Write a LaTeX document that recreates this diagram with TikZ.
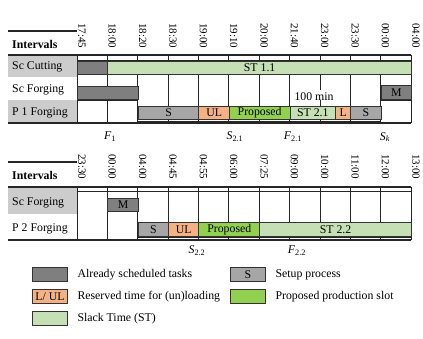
\documentclass[tikz,border=0pt]{standalone}
\usepackage{fontspec}
\setmainfont{Liberation Serif}
\usepackage{xcolor}
\usepackage{tikz}
\usetikzlibrary{positioning}

\definecolor{schedgray}{HTML}{7F7F7F}
\definecolor{setupgray}{HTML}{A6A6A6}
\definecolor{loadorange}{HTML}{F4B183}
\definecolor{propgreen}{HTML}{92D050}
\definecolor{slackgreen}{HTML}{C5E0B4}
\definecolor{labelgray}{HTML}{CCCCCC}

\tikzset{
  gridline/.style={line width=0.7pt, black!85},
  headline/.style={line width=1.3pt, black!85},
  bar/.style={draw=black!80, line width=1pt, minimum height=13.5pt, inner sep=0pt, anchor=west},
  timelbl/.style={rotate=-90, anchor=south west, inner sep=1pt, font=\fontsize{11}{12}\selectfont},
  rowlbl/.style={anchor=west, inner sep=0pt},
  keybox/.style={draw=black!80, line width=1pt, minimum width=35pt, minimum height=14pt, inner sep=0pt, anchor=north west},
}

\begin{document}
\begin{tikzpicture}[x=1pt, y=-1pt, every node/.style={font=\fontsize{11.8}{13}\selectfont}]
  \useasboundingbox (0,0) rectangle (423,339);
  % Plan 1: header and row backgrounds
  \fill[labelgray] (8,55) rectangle (77,77);
  \fill[labelgray] (8,100) rectangle (77,123);
  \draw[headline] (8,31) -- (77,31);
  \draw[headline] (8,55) -- (411,55);
  \draw[headline] (8,123) -- (411,123);
  \draw[gridline] (77,60) -- (411,60);
  \draw[gridline] (137,121) -- (380,121);
  \draw[gridline] (77,100) -- (137,100);
  \draw[gridline] (380,100) -- (411,100);
  \foreach \i/\tm in {0/17:45,1/18:00,2/18:20,3/18:30,4/19:00,5/19:10,6/20:00,7/21:40,8/23:00,9/23:30,10/00:00,11/04:00} {
    \node[timelbl] (tA\i) at ({77+30.36*\i},22) {\tm};
  }
  \foreach \i in {0,...,7,9,10,11} {
    \draw[gridline] ({77+30.36*\i},55) -- ({77+30.36*\i},123);
  }
  \draw[gridline] (319.9,55) -- (319.9,90);
  \draw[gridline] (319.9,100) -- (319.9,123);
  \node[rowlbl, font=\fontsize{11.8}{13}\selectfont\bfseries] (hdA) at (12,44) {Intervals};
  \node[rowlbl] (cutA) at (12,67) {Sc Cutting};
  \node[rowlbl] (forgA) at (12,90) {Sc Forging};
  \node[rowlbl] (pA) at (12,113) {P 1 Forging};
  % bars of plan 1
  \foreach \n/\a/\b/\y/\c/\txt in {
      busyA/0/1/68/schedgray/{}, stA/1/11/68/slackgreen/ST 1.1,
      busyB/0/2/93/schedgray/{}, mA/10/11/92.5/schedgray/M,
      sA/2/4/113/setupgray/S, ulA/4/5/113/loadorange/UL, propA/5/7/113/propgreen/Proposed,
      stB/7/8.5/113/slackgreen/ST 2.1, lA/8.5/9/113/loadorange/L, sB/9/10/113/setupgray/S} {
    \node[bar, fill=\c, minimum width={30.36*(\b-\a)}] (\n) at ({77+30.36*\a},\y) {\txt};
  }
  \node (gapA) at (314,97) {100 min};
  \node (f1) at (110,137) {{\itshape F}\textsubscript{1}};
  \node (s21) at (235,137) {{\itshape S}\textsubscript{2.1}};
  \node (f21) at (293,137) {{\itshape F}\textsubscript{2.1}};
  \node (sk) at (385,137) {{\itshape S}\textsubscript{\itshape k}};

  % Plan 2
  \fill[labelgray] (8,187) rectangle (77,214);
  \draw[headline] (8,162) -- (77,162);
  \draw[headline] (8,187) -- (411,187);
  \draw[headline] (8,240) -- (411,240);
  \draw[gridline] (77,191) -- (411,191);
  \draw[gridline] (137,237) -- (411,237);
  \foreach \i/\tm in {0/23:30,1/00:00,2/04:00,3/04:45,4/04:55,5/06:00,6/07:25,7/09:00,8/10:00,9/11:00,10/12:00,11/13:00} {
    \node[timelbl] (tB\i) at ({77+30.36*\i},153) {\tm};
    \draw[gridline] ({77+30.36*\i},187) -- ({77+30.36*\i},240);
  }
  \node[rowlbl, font=\fontsize{11.8}{13}\selectfont\bfseries] (hdB) at (12,175) {Intervals};
  \node[rowlbl] (forgB) at (12,203) {Sc Forging};
  \node[rowlbl] (pB) at (12,229) {P 2 Forging};
  \foreach \n/\a/\b/\y/\c/\txt in {
      mB/1/2/205/schedgray/M,
      sC/2/3/229.5/setupgray/S, ulB/3/4/229.5/loadorange/UL, propB/4/6/229.5/propgreen/Proposed,
      stC/6/11/229.5/slackgreen/ST 2.2} {
    \node[bar, fill=\c, minimum width={30.36*(\b-\a)}] (\n) at ({77+30.36*\a},\y) {\txt};
  }
  \node (s22) at (197,251) {{\itshape S}\textsubscript{2.2}};
  \node (f22) at (297,251) {{\itshape F}\textsubscript{2.2}};

  % legend
  \node[keybox, fill=schedgray] (kSched) at (32,267) {};
  \node[right=6pt of kSched] (tSched) {Already scheduled tasks};
  \node[keybox, fill=setupgray] (kSetup) at (230,267) {S};
  \node[right=6pt of kSetup] (tSetup) {Setup process};
  \node[keybox, fill=loadorange] (kLoad) at (32,289) {L/ UL};
  \node[right=6pt of kLoad] (tLoad) {Reserved time for (un)loading};
  \node[keybox, fill=propgreen] (kProp) at (230,289) {};
  \node[right=6pt of kProp] (tProp) {Proposed production slot};
  \node[keybox, fill=slackgreen] (kSlack) at (32,311) {};
  \node[right=6pt of kSlack] (tSlack) {Slack Time (ST)};
\end{tikzpicture}
\end{document}
